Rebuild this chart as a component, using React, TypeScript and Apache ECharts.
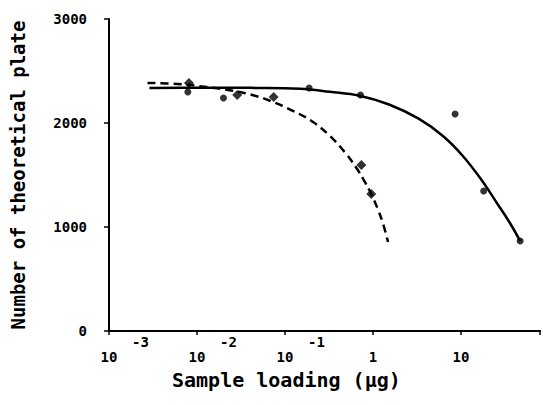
import React, { useEffect, useRef } from "react";
import * as echarts from "echarts";

// Fitted curves (x in µg, y in plates)
const solidCurveX = [0.00288, 0.0113, 0.041, 0.149, 0.324, 0.702, 1.52, 3.3, 6.28, 10.5, 17.6, 26.0, 35.4, 47.0];
const solidCurveY = [2337, 2340, 2338, 2330, 2300, 2262, 2178, 2042, 1873, 1683, 1438, 1221, 1048, 865];
const dashedCurveX = [0.00274, 0.00593, 0.01285, 0.0245, 0.0467, 0.0689, 0.1245, 0.2085, 0.324, 0.476, 0.649, 0.798, 0.955, 1.145, 1.303, 1.483];
const dashedCurveY = [2385, 2375, 2346, 2313, 2260, 2211, 2115, 2010, 1875, 1721, 1567, 1442, 1317, 1163, 1029, 856];

// Measured points
const circleX = [0.00787, 0.02, 0.188, 0.72, 8.57, 18.1, 47.0];
const circleY = [2298, 2240, 2336, 2269, 2087, 1346, 865];
const diamondX = [0.0081, 0.0286, 0.0743, 0.738, 0.955];
const diamondY = [2385, 2269, 2250, 1596, 1317];

// Axes
const xMin = 0.001;
const xMax = 79;
const yMin = 0;
const yMax = 3000;
const yInterval = 1000;

const xTitle = "Sample loading (μg)";
const yTitle = "Number of theoretical plate";

const FONT = "DejaVu Sans Mono";

function decade(v: number): number | null {
  const l = Math.log10(v);
  const e = Math.round(l);
  if (Math.abs(l - e) > 1e-6) return null;
  return e;
}

export default function App() {
  const ref = useRef<HTMLDivElement>(null);
  useEffect(() => {
    if (!ref.current) return;
    const chart = echarts.init(ref.current, undefined, { renderer: "svg" });
    const pairs = (xs: number[], ys: number[]) => xs.map((x, i) => [x, ys[i]]);
    chart.setOption({
      animation: false,
      backgroundColor: "#ffffff",
      textStyle: { fontFamily: FONT, color: "#000" },
      grid: { left: 106, right: 0, top: 19, bottom: 74, containLabel: false },
      xAxis: [
        {
          type: "log",
          logBase: 10,
          min: xMin,
          max: xMax,
          position: "bottom",
          axisLine: { show: true, lineStyle: { color: "#000", width: 2 } },
          axisTick: { show: true, inside: false, length: 4, lineStyle: { color: "#000", width: 1.5 } },
          splitLine: { show: false },
          minorTick: { show: false },
          axisLabel: {
            margin: 19,
            color: "#000",
            fontFamily: FONT,
            fontWeight: "bold",
            fontSize: 14,
            formatter: (v: number) => {
              const e = decade(v);
              if (e === null) return "";
              if (e < 0) return "10";
              return String(Math.round(Math.pow(10, e)));
            },
          },
        },
        {
          type: "log",
          logBase: 10,
          min: xMin,
          max: xMax,
          position: "bottom",
          axisLine: { show: false },
          axisTick: { show: false },
          splitLine: { show: false },
          axisLabel: {
            margin: 4,
            color: "#000",
            fontFamily: FONT,
            fontWeight: "bold",
            fontSize: 14,
            align: "left",
            padding: [0, 0, 0, 23],
            formatter: (v: number) => {
              const e = decade(v);
              if (e === null || e >= 0) return "";
              return String(e);
            },
          },
        },
      ],
      yAxis: {
        type: "value",
        min: yMin,
        max: yMax,
        interval: yInterval,
        name: yTitle,
        nameLocation: "middle",
        nameGap: 82,
        nameTextStyle: { fontFamily: FONT, fontWeight: "bold", fontSize: 19, color: "#000" },
        axisLine: { show: true, lineStyle: { color: "#000", width: 2 } },
        axisTick: { show: true, inside: false, length: 5, lineStyle: { color: "#000", width: 1.5 } },
        splitLine: { show: false },
        axisLabel: {
          margin: 22,
          color: "#000",
          fontFamily: FONT,
          fontWeight: "bold",
          fontSize: 14,
          formatter: (v: number) => String(v),
        },
      },
      graphic: [
        {
          type: "text",
          left: 172,
          top: 370,
          style: { text: xTitle, font: `bold 20px "${FONT}"`, fill: "#000" },
        },
      ],
      series: [
        {
          type: "line",
          xAxisIndex: 0,
          data: pairs(solidCurveX, solidCurveY),
          smooth: 0.4,
          showSymbol: false,
          symbol: "none",
          lineStyle: { color: "#000", width: 2.5, type: "solid" },
        },
        {
          type: "line",
          xAxisIndex: 0,
          data: pairs(dashedCurveX, dashedCurveY),
          smooth: 0.4,
          showSymbol: false,
          symbol: "none",
          lineStyle: { color: "#000", width: 2.5, type: [8, 5] },
        },
        {
          type: "scatter",
          xAxisIndex: 0,
          data: pairs(circleX, circleY),
          symbol: "circle",
          symbolSize: 7,
          itemStyle: { color: "#000" },
        },
        {
          type: "scatter",
          xAxisIndex: 0,
          data: pairs(diamondX, diamondY),
          symbol: "diamond",
          symbolSize: 10,
          itemStyle: { color: "#000" },
        },
      ],
    });
    return () => chart.dispose();
  }, []);
  return <div ref={ref} style={{ width: 543, height: 405, position: "absolute", left: 0, top: 0 }} />;
}
